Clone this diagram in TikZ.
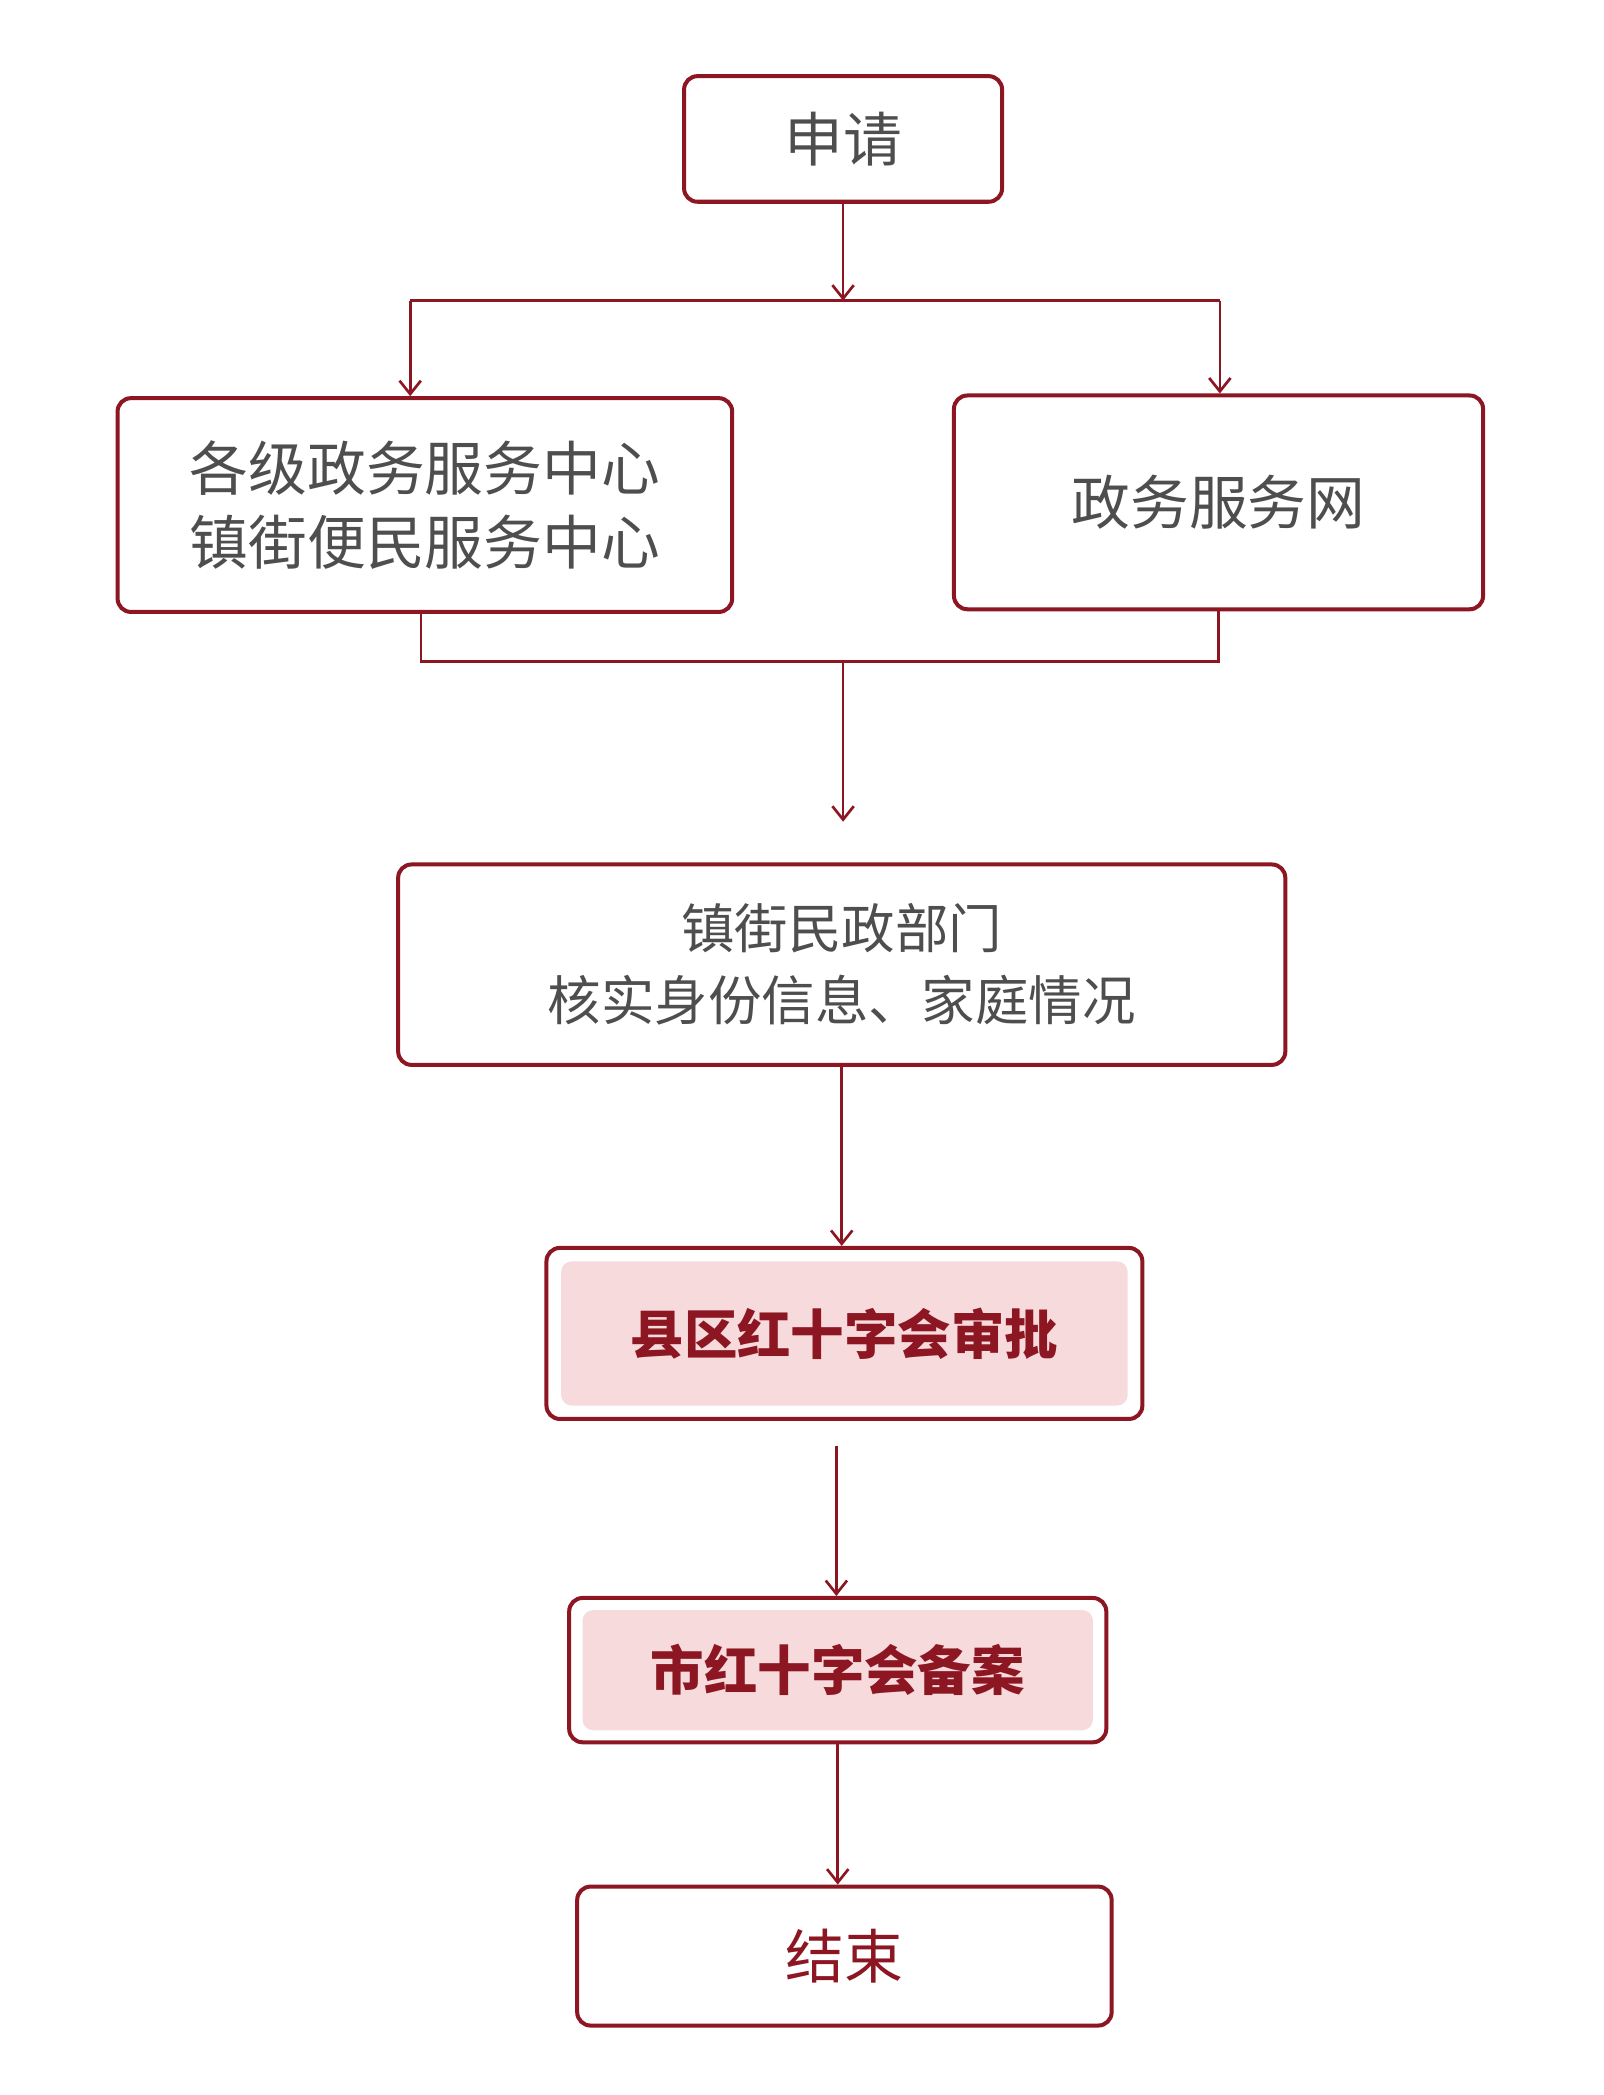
\documentclass[tikz,border=0pt]{standalone}
\usepackage{fontspec}
\setmainfont{Noto Sans CJK SC}
\usetikzlibrary{positioning,arrows.meta}
\definecolor{boxred}{RGB}{140,22,34}
\definecolor{pinkfill}{RGB}{246,218,220}
\definecolor{txtgray}{RGB}{78,78,78}
\tikzset{
    stage/.style={draw=boxred, line width=1.5pt, rounded corners=5pt, fill=white,
        text=txtgray, font=\fontsize{22}{28}\selectfont, align=center, inner sep=0pt},
    keystage/.style={fill=pinkfill, rounded corners=4pt, text=boxred,
        font=\fontsize{20}{26}\selectfont\bfseries, inner sep=0pt},
    flow/.style={draw=boxred, line width=1pt, -{Straight Barb[length=5pt,width=8pt]}},
    link/.style={draw=boxred, line width=1pt},
}
\begin{document}
\begin{tikzpicture}[x=0.5pt, y=-0.5pt]
    \useasboundingbox (0,0) rectangle (1200,1568);
    % boxes
    \node[stage, minimum width=119pt, minimum height=47pt] (apply) at (631,104) {申请};
    \node[stage, minimum width=230pt, minimum height=80pt] (centre) at (318,378) {各级政务服务中心\\镇街便民服务中心};
    \node[stage, minimum width=198pt, minimum height=80pt] (web) at (912,376) {政务服务网};
    \node[stage, minimum width=332pt, minimum height=75pt, font=\fontsize{20}{27}\selectfont] (check) at (630,722) {镇街民政部门\\核实身份信息、家庭情况};
    \node[stage, minimum width=223pt, minimum height=64pt] (county) at (632,998) {};
    \node[keystage, minimum width=212pt, minimum height=54pt] at (county) {县区红十字会审批};
    \node[stage, minimum width=201pt, minimum height=54pt] (city) at (627,1250) {};
    \node[keystage, minimum width=191pt, minimum height=45pt] at (city) {市红十字会备案};
    \node[stage, minimum width=200pt, minimum height=52pt, text=boxred] (finish) at (632,1464) {结束};
    % connectors
    \coordinate (split) at (631,225);
    \coordinate (splitl) at (307,225);
    \coordinate (splitr) at (913,225);
    \draw[flow] (apply) -- (split);
    \draw[link] (splitl) -- (splitr);
    \draw[flow] (splitl) -- (splitl |- centre.north);
    \draw[flow] (splitr) -- (splitr |- web.north);
    \coordinate (joinl) at (315,495);
    \coordinate (joinr) at (912,495);
    \coordinate (join) at (631,495);
    \coordinate (joinend) at (631,615);
    \draw[link] (joinl |- centre.south) -- (joinl) -- (joinr) -- (joinr |- web.south);
    \draw[flow] (join) -- (joinend);
    \draw[flow] (check) -- (check |- county.north);
    \coordinate (gap) at (626,1082);
    \draw[flow] (gap) -- (gap |- city.north);
    \draw[flow] (city) -- (city |- finish.north);
\end{tikzpicture}
\end{document}
